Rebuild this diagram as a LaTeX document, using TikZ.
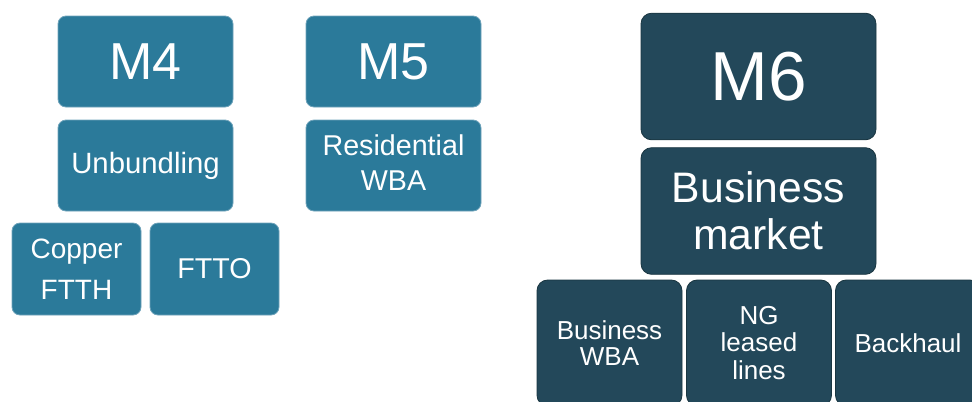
\documentclass[tikz,border=0pt]{standalone}
\usepackage{fontspec}
\setmainfont{Liberation Sans}
\definecolor{fixedteal}{HTML}{2B7A9A}
\definecolor{fixededge}{HTML}{6FA3BA}
\definecolor{businessslate}{HTML}{23485A}
\definecolor{businessedge}{HTML}{1A3641}
\usetikzlibrary{positioning}
\tikzset{
    marketbox/.style={
        rounded corners=6pt,
        line width=0.6pt,
        inner sep=0pt,
        align=center,
        text=white
    },
    fixedbox/.style={
        marketbox,
        draw=fixededge,
        fill=fixedteal,
        minimum width=131.25pt,
        minimum height=68.25pt
    },
    fixedsmall/.style={
        fixedbox,
        minimum width=96.75pt,
        minimum height=69pt
    },
    businessbox/.style={
        marketbox,
        rounded corners=8pt,
        draw=businessedge,
        fill=businessslate,
        minimum width=176.25pt,
        minimum height=95pt
    },
    businesssmall/.style={
        businessbox,
        minimum width=108.75pt,
        minimum height=94.5pt
    },
    titlefont/.style={font=\fontsize{39}{44}\selectfont},
    bigtitlefont/.style={font=\fontsize{52}{58}\selectfont},
    labelfont/.style={font=\fontsize{21.5}{26}\selectfont},
    marketfont/.style={font=\fontsize{32}{35}\selectfont},
    smallfont/.style={font=\fontsize{19.5}{19.5}\selectfont}
}

\begin{document}
\begin{tikzpicture}[x=0.75pt,y=-0.75pt]
        \useasboundingbox (0,0) rectangle (972,401);

        % M4 column
        \node[fixedbox,titlefont] (mfour) at (145.5,61.5) {M4};
        \node[fixedbox,labelfont,font=\fontsize{22}{26}\selectfont] (unbundling) at (145.5,165.5)
            {Unbundling};
        \node[fixedsmall,labelfont,font=\fontsize{21}{31}\selectfont] (copper) at (76.5,269)
            {Copper\\FTTH};
        \node[fixedsmall,labelfont] (ftto) at (214.5,269) {FTTO};

        % M5 column
        \node[fixedbox,titlefont] (mfive) at (393.5,61.5) {M5};
        \node[fixedbox,labelfont,text depth=4pt] (residential) at (393.5,165.5)
            {Residential\\WBA};

        % M6 column
        \node[businessbox,bigtitlefont] (msix) at (758.5,76.5) {M6};
        \node[businessbox,marketfont] (businessmarket) at (758.5,211)
            {Business\\market};
        \node[businesssmall,smallfont] (businesswba) at (609.5,343)
            {Business\\WBA};
        \node[businesssmall,smallfont,font=\fontsize{19.5}{20.5}\selectfont] (leased) at (759,343)
            {NG\\leased\\lines};
        \node[businesssmall,smallfont] (backhaul) at (908,343) {Backhaul};
    \end{tikzpicture}
\end{document}
